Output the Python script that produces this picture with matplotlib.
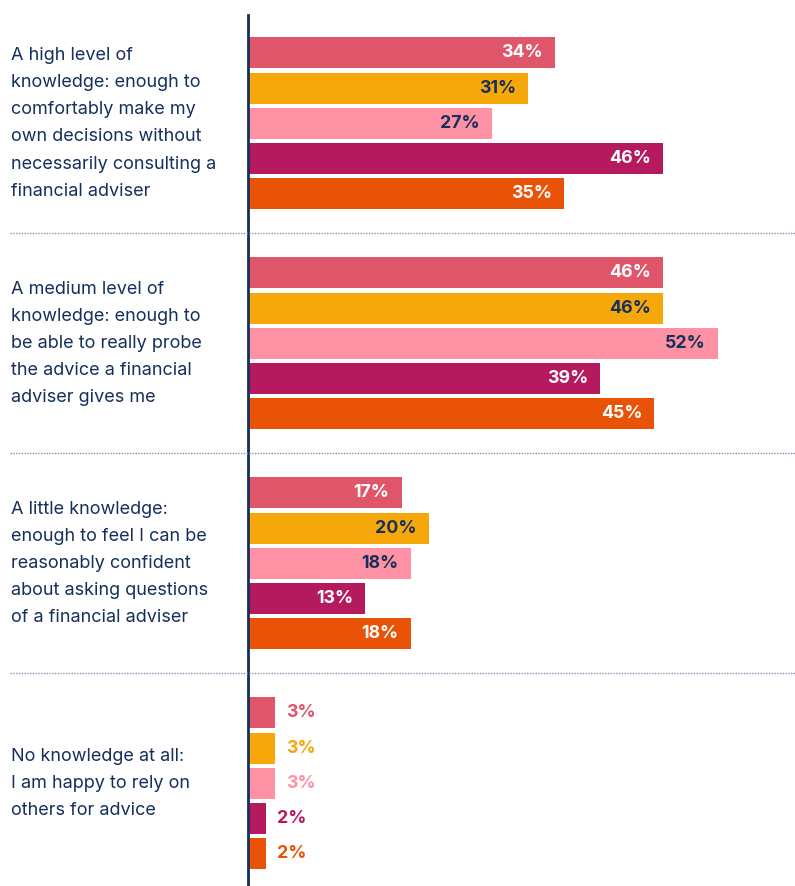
import matplotlib.pyplot as plt
from matplotlib.lines import Line2D
from matplotlib.transforms import blended_transform_factory

plt.rcParams['font.family'] = ['Inter', 'DejaVu Sans']

categories = [
    "A high level of\nknowledge: enough to\ncomfortably make my\nown decisions without\nnecessarily consulting a\nfinancial adviser",
    "A medium level of\nknowledge: enough to\nbe able to really probe\nthe advice a financial\nadviser gives me",
    "A little knowledge:\nenough to feel I can be\nreasonably confident\nabout asking questions\nof a financial adviser",
    "No knowledge at all:\nI am happy to rely on\nothers for advice",
]
series1 = [34, 46, 17, 3]
series2 = [31, 46, 20, 3]
series3 = [27, 52, 18, 3]
series4 = [46, 39, 13, 2]
series5 = [35, 45, 18, 2]

navy = '#15305C'
colors = ['#DF566B', '#F6A70A', '#FF91A4', '#B5195E', '#E95307']
text_cols = ['white', navy, navy, 'white', 'white']

W, H = 795, 886
fig = plt.figure(figsize=(W / 100, H / 100), dpi=100)
# axes: x=0 at px 248, ~9.03 px per percent; y in pixel units
ax = fig.add_axes([248 / W, 0, 542 / W, (H - 15) / H])
ax.set_xlim(0, 542 / 9.03)
ax.set_ylim(H - 53, -38)

group_gap = 220
pitch = 35.2
all_series = [series1, series2, series3, series4, series5]

for j, vals in enumerate(all_series):
    ys = [g * group_gap + j * pitch for g in range(len(categories))]
    ax.barh(ys, vals, height=31, color=colors[j], left=0)
    for y, v in zip(ys, vals):
        if v >= 5:
            ax.annotate(f"{v}%", (v, y), xytext=(-12, 0), textcoords='offset pixels',
                        ha='right', va='center', fontsize=12.8, fontweight='bold',
                        color=text_cols[j])
        else:
            ax.annotate(f"{v}%", (v, y), xytext=(11, 0), textcoords='offset pixels',
                        ha='left', va='center', fontsize=12.8, fontweight='bold',
                        color=colors[j])

# category labels centred on each group
tr = blended_transform_factory(fig.transFigure, ax.transData)
for g, label in enumerate(categories):
    yc = g * group_gap + 2 * pitch
    ax.text(11 / W, yc, label, transform=tr, ha='left', va='center',
            fontsize=13, color=navy, linespacing=1.78)

# dotted separators
for g in range(1, len(categories)):
    ysep = g * group_gap - (group_gap - 4 * pitch) / 2
    fig.add_artist(Line2D([10 / W, 1.0], [ysep, ysep], transform=tr,
                          color='#7F90AE', linestyle=(0, (1, 1)), linewidth=1))

for s in ['top', 'right', 'bottom']:
    ax.spines[s].set_visible(False)
ax.spines['left'].set_color(navy)
ax.spines['left'].set_linewidth(2)
ax.set_xticks([])
ax.set_yticks([])

fig.savefig('out.png', dpi=100)
